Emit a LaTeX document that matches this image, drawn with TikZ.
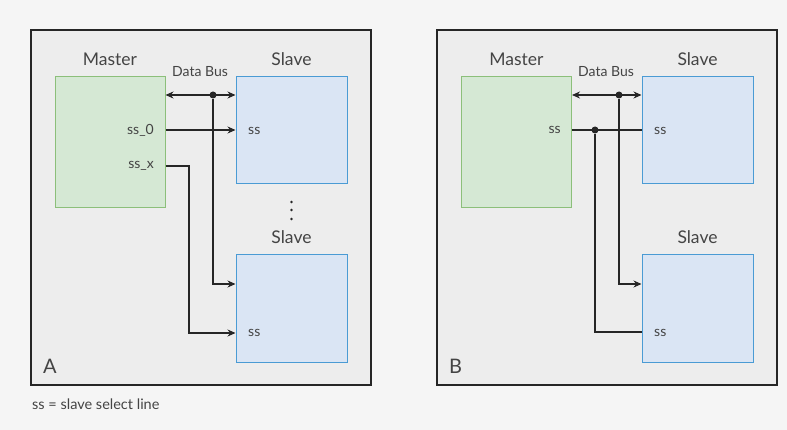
\documentclass[tikz,border=0pt]{standalone}
\usepackage{fontspec}
\setmainfont{Lato}
\usetikzlibrary{arrows.meta}
\definecolor{bggray}{HTML}{F5F5F5}
\definecolor{panelgray}{HTML}{EDEDED}
\definecolor{mfill}{HTML}{D5E8D4}
\definecolor{mdraw}{HTML}{8CBF7A}
\definecolor{sfill}{HTML}{DAE5F4}
\definecolor{sdraw}{HTML}{4A9BD4}
\definecolor{txt}{HTML}{444444}
\begin{document}
\begin{tikzpicture}[x=1pt, y=-1pt,
		panel/.style={draw=black!85, fill=panelgray, line width=1.3pt},
		master/.style={draw=mdraw, fill=mfill, line width=1pt, minimum width=110pt, minimum height=131pt, inner sep=0pt},
		slave/.style={draw=sdraw, fill=sfill, line width=1pt, minimum width=111pt, minimum height=107pt, inner sep=0pt},
		title/.style={text=txt, font=\fontsize{17.5}{18}\selectfont, inner sep=0pt},
		lbl/.style={text=txt, font=\fontsize{14}{14}\selectfont, inner sep=0pt},
		wire/.style={draw=black!85, line width=1.2pt},
		arr/.style={wire, -{Stealth[length=8pt, width=7pt]}},
		dot/.style={circle, fill=black!85, inner sep=0pt, minimum size=7pt}]
		\fill[bggray] (0,0) rectangle (787,430);
		\useasboundingbox (0,0) rectangle (787,430);
		% panel A
		\draw[panel] (31,30) rectangle (371,385);
		\node[master] (mA) at (110,142.5) {};
		\node[slave] (sA1) at (291.5,130.5) {};
		\node[slave] (sA2) at (291.5,308.5) {};
		\node[title] (mAt) at (110,59) {Master};
		\node[title] (sA1t) at (291.5,59) {Slave};
		\node[title] (sA2t) at (291.5,237) {Slave};
		\node[lbl] (busAt) at (200,72) {Data Bus};
		\node[lbl, anchor=east] (ss0) at (154,130) {ss\_0};
		\node[lbl, anchor=east] (ssx) at (154,166) {ss\_x};
		\node[lbl, anchor=west] (sA1ss) at (248,131) {ss};
		\node[lbl, anchor=west] (sA2ss) at (248,333) {ss};
		\node[title, anchor=west, font=\fontsize{20}{20}\selectfont] (tA) at (43,366) {A};
		\foreach \y in {202,210,219}
			\fill[black!85] (291.5,\y) circle (1.3pt);
		\node[dot] (busA) at (213,95) {};
		\coordinate (ssA) at (189,166);
		\draw[wire, {Stealth[length=8pt, width=7pt]}-{Stealth[length=8pt, width=7pt]}] (mA.east |- busA) -- (sA1.west |- busA);
		\draw[arr] (busA) -- (busA |- 0,284) -- (sA2.west |- 0,284);
		\draw[arr] (mA.east |- ss0) -- (sA1.west |- ss0);
		\draw[arr] (mA.east |- ssx) -- (ssA) -- (ssA |- sA2ss) -- (sA2.west |- sA2ss);
		% panel B
		\draw[panel] (437,30) rectangle (777,385);
		\node[master] (mB) at (516.5,142.5) {};
		\node[slave] (sB1) at (697.5,130.5) {};
		\node[slave] (sB2) at (697.5,308.5) {};
		\node[title] (mBt) at (516.5,59) {Master};
		\node[title] (sB1t) at (697.5,59) {Slave};
		\node[title] (sB2t) at (697.5,237) {Slave};
		\node[lbl] (busBt) at (606,72) {Data Bus};
		\node[lbl, anchor=east] (ssB) at (561,130) {ss};
		\node[lbl, anchor=west] (sB1ss) at (654,131) {ss};
		\node[lbl, anchor=west] (sB2ss) at (654,333) {ss};
		\node[title, anchor=west, font=\fontsize{20}{20}\selectfont] (tB) at (449,366) {B};
		\node[dot] (busB) at (619,95) {};
		\node[dot] (ssdot) at (595,130) {};
		\draw[wire, {Stealth[length=8pt, width=7pt]}-{Stealth[length=8pt, width=7pt]}] (mB.east |- busB) -- (sB1.west |- busB);
		\draw[arr] (busB) -- (busB |- 0,284) -- (sB2.west |- 0,284);
		\draw[wire] (mB.east |- ssB) -- (sB1.west |- ssB);
		\draw[wire] (ssdot) -- (ssdot |- 0,332) -- (sB2.west |- 0,332);
		% note
		\node[lbl, anchor=west, font=\fontsize{14.5}{15}\selectfont] (note) at (32,404) {ss = slave select line};
	\end{tikzpicture}
\end{document}
